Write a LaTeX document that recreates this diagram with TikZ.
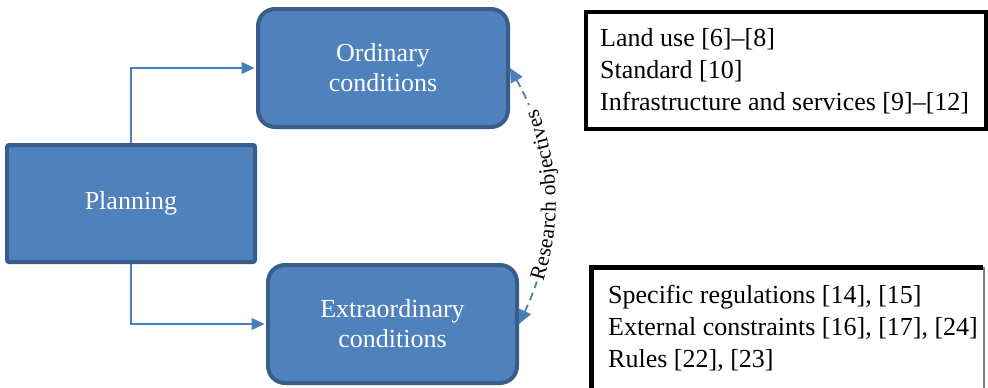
\documentclass[tikz,border=0pt]{standalone}
\usepackage{fontspec}
\setmainfont{Liberation Serif}
\usetikzlibrary{arrows.meta,decorations.text}

\definecolor{boxfill}{HTML}{4F81BD}
\definecolor{boxline}{HTML}{385D8A}
\definecolor{linkblue}{HTML}{4A7EBB}

\newcommand{\bodyfont}{\fontsize{26}{31.8}\selectfont}
\newcommand{\boxfont}{\fontsize{26}{30}\selectfont}
\newcommand{\arcfont}{\fontsize{21.5}{22}\selectfont}

\tikzset{
  bluebox/.style={draw=boxline, fill=boxfill, line width=4pt, text=white,
    font=\boxfont, align=center, inner sep=0pt},
  listframe/.style={inner sep=0pt, anchor=north west},
  listtext/.style={font=\bodyfont, align=left, inner sep=0pt, anchor=west},
  conn/.style={draw=linkblue, line width=1.4pt,
    -{Triangle[length=13pt,width=12pt]}, shorten >=1.5pt},
  research/.style={draw=linkblue, line width=1.8pt, dash pattern=on 8pt off 5pt,
    {Triangle[length=14pt,width=13pt]}-{Triangle[length=14pt,width=13pt]}},
}

\begin{document}
\begin{tikzpicture}[x=1pt,y=-1pt]
\useasboundingbox (0,0) rectangle (988,388);

% process boxes
\node[bluebox, rounded corners=2pt, minimum width=248pt, minimum height=117pt]
  (plan) at (131,203.5) {Planning};
\node[bluebox, rounded corners=17pt, minimum width=250pt, minimum height=118pt]
  (ord) at (383,68) {Ordinary\\conditions};
\node[bluebox, rounded corners=17pt, minimum width=249pt, minimum height=118pt]
  (ext) at (392.5,324) {Extraordinary\\conditions};

% reference list for ordinary conditions
\node[listframe, draw=black, line width=4pt, minimum width=400pt, minimum height=117pt]
  (refAbox) at (584,9.5) {};
\node[listtext] (refA) at ([xshift=16pt,yshift=-1pt]refAbox.west)
  {Land use [6]--[8]\\Standard [10]\\Infrastructure and services [9]--[12]};

% reference list for extraordinary conditions
\node[listframe, minimum width=393pt, minimum height=125pt]
  (refBbox) at (591,267) {};
\draw[black, line width=5pt] (refBbox.south west) -- (refBbox.north west)
  -- ([xshift=-1pt]refBbox.north east);
\draw[gray, line width=2pt] (refBbox.north east) -- (refBbox.south east);
\node[listtext] (refB) at (608,328.5)
  {Specific regulations [14], [15]\\External constraints [16], [17], [24]\\Rules [22], [23]};

% branches from planning
\draw[conn] (plan.north) |- (ord.west);
\draw[conn] (plan.south) |- (ext.west);

% research objectives link
\draw[research] (ord.east) to[bend left=27] (ext.east);
\path[draw=white, line width=13pt, dash pattern=on 0pt off 46pt on 180pt off 400pt]
  (ext.east) to[bend right=27] (ord.east);
\path[decorate, decoration={text along path, text align=center, raise=-7pt,
    text={|\arcfont|Research objectives}}]
  (ext.east) to[bend right=27] (ord.east);
\end{tikzpicture}
\end{document}
